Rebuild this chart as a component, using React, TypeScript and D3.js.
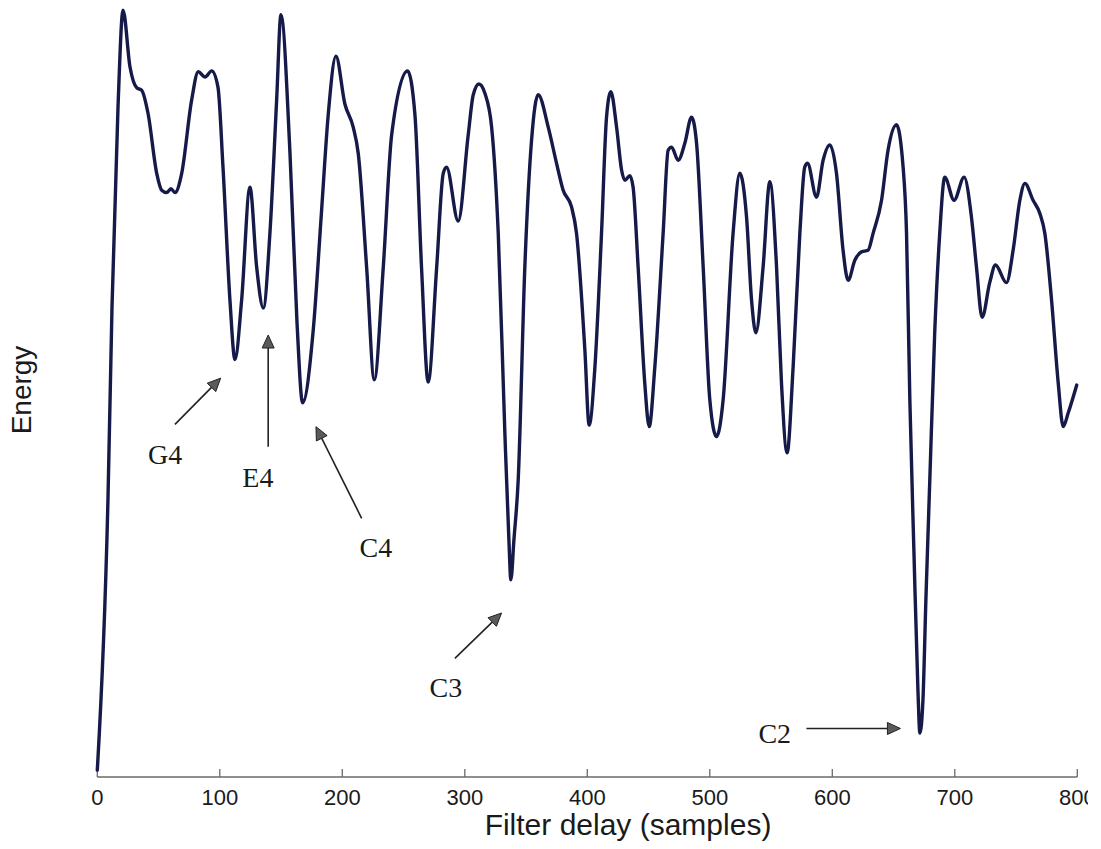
import React from "react";
import * as d3 from "d3";

// Filter delay (samples)
const delay: number[] = [
  0, 8.7, 12.0, 16.9, 21.0, 26.7, 32.2, 36.2, 41.4, 48.5,
  52.6, 56.6, 60.1, 63.4, 68.9, 77.0, 82.4, 87.9, 93.4, 98.5,
  102.6, 108.3, 112.4, 117.8, 124.6, 130.1, 135.5, 140.9, 146.4, 149.9,
  157.3, 163.0, 167.6, 176.3, 183.1, 188.5, 194.8, 202.1, 208.9, 213.0,
  219.9, 226.1, 233.4, 240.3, 253.3, 259.3, 264.7, 270.1, 277.0, 282.4,
  285.1, 294.6, 302.8, 306.9, 311.5, 316.4, 321.9, 327.3, 332.7, 336.0,
  337.6, 340.1, 343.6, 349.0, 354.5, 359.9, 368.1, 374.9, 380.3, 387.2,
  391.2, 398.0, 401.5, 406.2, 411.6, 415.7, 419.2, 423.9, 428.0, 430.7,
  434.7, 437.4, 441.5, 446.9, 450.5, 455.1, 461.9, 466.0, 468.8, 474.2,
  479.6, 485.1, 489.2, 494.6, 500.0, 505.5, 510.9, 519.0, 524.5, 530.0,
  534.1, 537.6, 543.5, 549.0, 554.5, 558.5, 563.1, 568.0, 573.5, 577.5,
  579.8, 587.1, 592.5, 598.0, 603.4, 608.8, 612.9, 618.4, 623.8, 629.2,
  633.3, 640.2, 645.5, 652.4, 657.8, 660.6, 663.3, 666.6, 669.9, 671.5,
  674.0, 676.4, 679.6, 683.6, 687.7, 691.8, 699.4, 707.6, 713.6, 717.7,
  722.3, 728.5, 733.2, 742.2, 747.6, 753.1, 757.2, 763.9, 769.4, 773.5,
  779.0, 784.4, 788.5, 792.6, 799.5,
];

// Energy (arbitrary units, no ticks in the original)
const energy: number[] = [
  0.9, 36.0, 61.0, 87.0, 99.6, 92.2, 89.5, 89.2, 86.2, 78.4,
  76.2, 75.9, 76.4, 75.9, 78.4, 87.9, 91.6, 90.9, 91.7, 89.6,
  79.2, 61.9, 54.2, 61.9, 76.6, 66.2, 60.9, 70.6, 87.9, 99.0,
  81.0, 59.1, 48.6, 58.1, 73.6, 86.0, 93.6, 87.4, 84.4, 81.0,
  66.1, 51.6, 66.1, 83.4, 91.7, 86.0, 66.1, 51.3, 66.1, 78.4,
  79.2, 72.2, 83.4, 88.6, 90.0, 88.8, 84.4, 70.6, 44.7, 30.8,
  25.6, 30.8, 38.6, 66.2, 82.7, 88.6, 84.4, 79.7, 76.2, 74.0,
  70.6, 55.5, 45.7, 53.2, 70.6, 85.7, 89.0, 84.4, 78.8, 77.5,
  78.1, 76.6, 66.2, 51.2, 45.5, 53.2, 70.6, 81.4, 81.8, 80.1,
  82.3, 85.7, 82.3, 66.2, 49.0, 44.2, 49.0, 70.6, 78.4, 72.7,
  61.9, 57.7, 66.2, 77.3, 66.2, 51.2, 42.1, 53.2, 70.6, 79.2,
  79.7, 75.3, 80.1, 82.1, 78.4, 68.4, 64.5, 67.1, 68.2, 68.4,
  70.6, 74.9, 81.4, 84.7, 79.2, 70.6, 49.0, 29.5, 11.3, 5.7,
  10.0, 23.0, 38.6, 57.7, 70.6, 77.9, 74.9, 77.9, 72.7, 66.2,
  59.7, 64.2, 66.5, 64.2, 68.4, 74.9, 77.1, 74.9, 73.2, 70.6,
  61.9, 51.2, 45.5, 47.3, 50.9,
];

const xTicks: number[] = [0, 100, 200, 300, 400, 500, 600, 700, 800];

// Annotations (note labels), in data units
const noteLabels: string[] = ["G4", "E4", "C4", "C3", "C2"];
const noteTextDelay: number[] = [55.3, 131.1, 227.4, 284.6, 553.0];
const noteTextEnergy: number[] = [40.7, 37.7, 28.6, 10.4, 4.4];
const arrowFromDelay: number[] = [63.4, 139.5, 215.8, 291.9, 578.9];
const arrowFromEnergy: number[] = [45.8, 42.9, 33.6, 15.4, 6.3];
const arrowToDelay: number[] = [100.7, 139.5, 178.5, 330.0, 655.6];
const arrowToEnergy: number[] = [51.8, 57.4, 45.5, 21.3, 6.3];

const W = 1101;
const H = 849;

export default function App() {
  const x = d3.scaleLinear().domain([0, 800]).range([97.3, 1077.3]);
  const y = d3.scaleLinear().domain([0, 100]).range([777, 7]);

  const pts: [number, number][] = delay.map((d, i) => [d, energy[i]]);
  const line = d3
    .line<[number, number]>()
    .x((d) => x(d[0]))
    .y((d) => y(d[1]))
    .curve(d3.curveMonotoneX);

  const axisY = y(0);

  const arrows = noteLabels.map((lab, i) => {
    const x1 = x(arrowFromDelay[i]);
    const y1 = y(arrowFromEnergy[i]);
    const x2 = x(arrowToDelay[i]);
    const y2 = y(arrowToEnergy[i]);
    const ang = Math.atan2(y2 - y1, x2 - x1);
    const hl = 13;
    const hw = 6;
    const bx = x2 - hl * Math.cos(ang);
    const by = y2 - hl * Math.sin(ang);
    const px = -Math.sin(ang) * hw;
    const py = Math.cos(ang) * hw;
    const head = `M${x2},${y2}L${bx + px},${by + py}L${bx - px},${by - py}Z`;
    return { lab, x1, y1, bx, by, head, tx: x(noteTextDelay[i]), ty: y(noteTextEnergy[i]) };
  });

  return (
    <div style={{ position: "absolute", left: 0, top: 0 }}>
      <svg width={W} height={H} style={{ display: "block", background: "#fff" }}>
        <defs>
          <clipPath id="tickclip">
            <rect x={0} y={0} width={1088} height={H} />
          </clipPath>
        </defs>
        {/* x axis */}
        <line x1={x(0)} x2={x(800)} y1={axisY} y2={axisY} stroke="#6a6a6a" strokeWidth={1.5} />
        {xTicks.map((t) => (
          <line key={"t" + t} x1={x(t)} x2={x(t)} y1={axisY} y2={axisY - 8} stroke="#6a6a6a" strokeWidth={1.3} />
        ))}
        <g clipPath="url(#tickclip)">
          {xTicks.map((t) => (
            <text
              key={"l" + t}
              x={x(t)}
              y={805}
              textAnchor="middle"
              fontFamily="Liberation Sans, Arial, sans-serif"
              fontSize={22}
              fill="#1a1a1a"
            >
              {t}
            </text>
          ))}
        </g>
        <text
          x={628}
          y={835}
          textAnchor="middle"
          fontFamily="Liberation Sans, Arial, sans-serif"
          fontSize={30}
          fill="#1a1a1a"
        >
          Filter delay (samples)
        </text>
        <text
          transform={`translate(31,390) rotate(-90)`}
          textAnchor="middle"
          fontFamily="Liberation Sans, Arial, sans-serif"
          fontSize={28}
          fill="#1a1a1a"
        >
          Energy
        </text>

        {/* curve */}
        <path d={line(pts) || ""} fill="none" stroke="#161a48" strokeWidth={3.4} strokeLinejoin="round" strokeLinecap="round" />

        {/* annotations */}
        {arrows.map((a) => (
          <g key={a.lab}>
            <line x1={a.x1} y1={a.y1} x2={a.bx} y2={a.by} stroke="#222" strokeWidth={1.6} />
            <path d={a.head} fill="#5a5a5a" stroke="#222" strokeWidth={1} strokeLinejoin="round" />
            <text
              x={a.tx}
              y={a.ty}
              textAnchor="middle"
              fontFamily="Liberation Serif, Times New Roman, serif"
              fontSize={28}
              fill="#1a1a1a"
            >
              {a.lab}
            </text>
          </g>
        ))}
      </svg>
    </div>
  );
}
